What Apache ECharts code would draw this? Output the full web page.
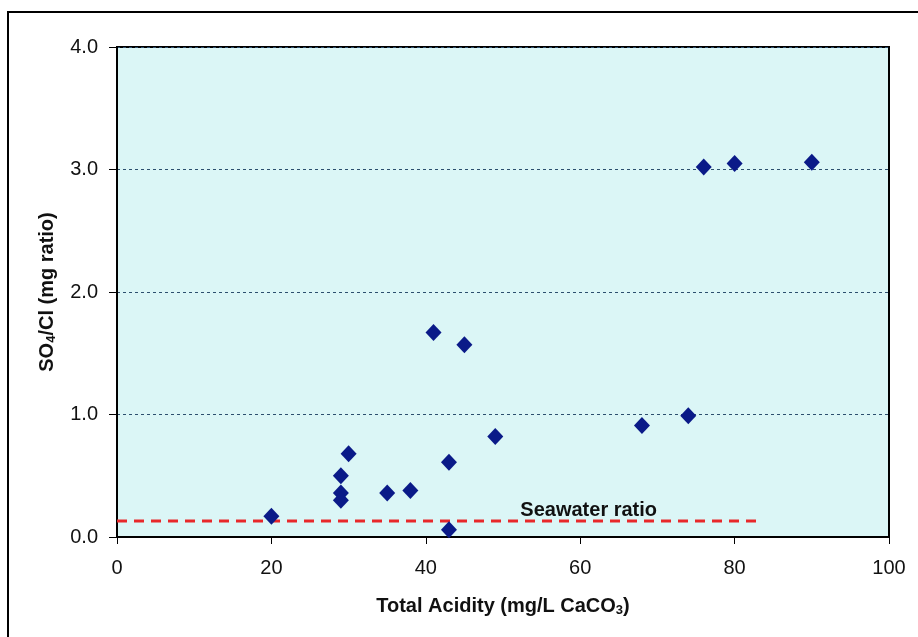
<!DOCTYPE html>
<html>
<head>
<meta charset="utf-8">
<script src="https://cdn.jsdelivr.net/npm/echarts@6/dist/echarts.min.js"></script>
<style>
  html, body { margin: 0; padding: 0; background: #fff; }
  #chart { width: 918px; height: 637px; }
</style>
</head>
<body>
<div id="chart"></div>
<script>
// total acidity (mg/L CaCO3) vs SO4/Cl ratio
const acidity = [20, 29, 29, 29, 30, 35, 38, 41, 43, 43, 45, 49, 68, 74, 76, 80, 90];
const so4cl = [0.17, 0.50, 0.36, 0.30, 0.68, 0.36, 0.38, 1.67, 0.61, 0.06, 1.57, 0.82, 0.91, 0.99, 3.02, 3.05, 3.06];

// seawater reference line
const seawaterX = [0, 83.5];
const seawaterY = [0.13, 0.13];
const seawaterLabelAt = [61.1, 0.13];

const xTicks = [0, 20, 40, 60, 80, 100];
const yTicks = [0, 1, 2, 3, 4];

const chart = echarts.init(document.getElementById('chart'));
const font = 'Liberation Sans, Arial, sans-serif';

const option = {
  backgroundColor: '#fff',
  animation: false,
  grid: {
    left: 117, right: 29, top: 47, bottom: 100,
    show: true,
    backgroundColor: '#dbf6f6',
    borderColor: '#000',
    borderWidth: 2
  },
  xAxis: {
    type: 'value',
    min: xTicks[0], max: xTicks[xTicks.length - 1], interval: 20,
    name: 'Total Acidity (mg/L CaCO{s|3})',
    nameLocation: 'middle',
    nameGap: 59,
    nameTextStyle: {
      fontFamily: font, fontSize: 20, fontWeight: 'bold', color: '#111',
      rich: { s: { fontSize: 13, fontWeight: 'bold', color: '#111', padding: [8, 0, 0, 0], fontFamily: font } }
    },
    axisLine: { lineStyle: { color: '#000', width: 2 } },
    axisTick: { show: true, length: 7, lineStyle: { color: '#000', width: 1 } },
    axisLabel: { fontFamily: font, fontSize: 20, color: '#111', margin: 21 },
    splitLine: { show: false }
  },
  yAxis: {
    type: 'value',
    min: yTicks[0], max: yTicks[yTicks.length - 1], interval: 1,
    name: 'SO{s|4}/Cl (mg ratio)',
    nameLocation: 'middle',
    nameGap: 59,
    nameTextStyle: {
      fontFamily: font, fontSize: 20, fontWeight: 'bold', color: '#111',
      rich: { s: { fontSize: 13, fontWeight: 'bold', color: '#111', padding: [9, 0, 0, 0], fontFamily: font } }
    },
    axisLine: { show: true, lineStyle: { color: '#000', width: 2 } },
    axisTick: { show: true, length: 8, lineStyle: { color: '#000', width: 1 } },
    axisLabel: {
      fontFamily: font, fontSize: 20, color: '#111', margin: 19,
      formatter: v => v.toFixed(1)
    },
    splitLine: {
      show: true,
      lineStyle: { color: '#2c4f6e', width: 1, type: [3, 3] }
    }
  },
  series: [
    {
      name: 'Seawater',
      type: 'line',
      data: seawaterX.map((x, i) => [x, seawaterY[i]]),
      symbol: 'none',
      lineStyle: { color: '#e8282a', width: 3, type: [10, 7] },
      z: 2
    },
    {
      name: 'Samples',
      type: 'scatter',
      data: acidity.map((x, i) => [x, so4cl[i]]),
      symbol: 'diamond',
      symbolSize: [16, 17],
      itemStyle: { color: '#0a1a88', opacity: 1 },
      z: 3
    }
  ]
};

chart.setOption(option);

const p = chart.convertToPixel({ gridIndex: 0 }, seawaterLabelAt);
chart.setOption({
  graphic: [
    {
      type: 'text',
      x: p[0],
      y: p[1] - 11,
      style: {
        text: 'Seawater ratio', fontFamily: font, fontSize: 20, fontWeight: 'bold', fill: '#111',
        align: 'center', verticalAlign: 'middle'
      },
      z: 10
    },
    {
      type: 'rect',
      shape: { x: 8, y: 12, width: 930, height: 660 },
      style: { fill: 'none', stroke: '#000', lineWidth: 2 },
      silent: true
    }
  ]
});
</script>
</body>
</html>
